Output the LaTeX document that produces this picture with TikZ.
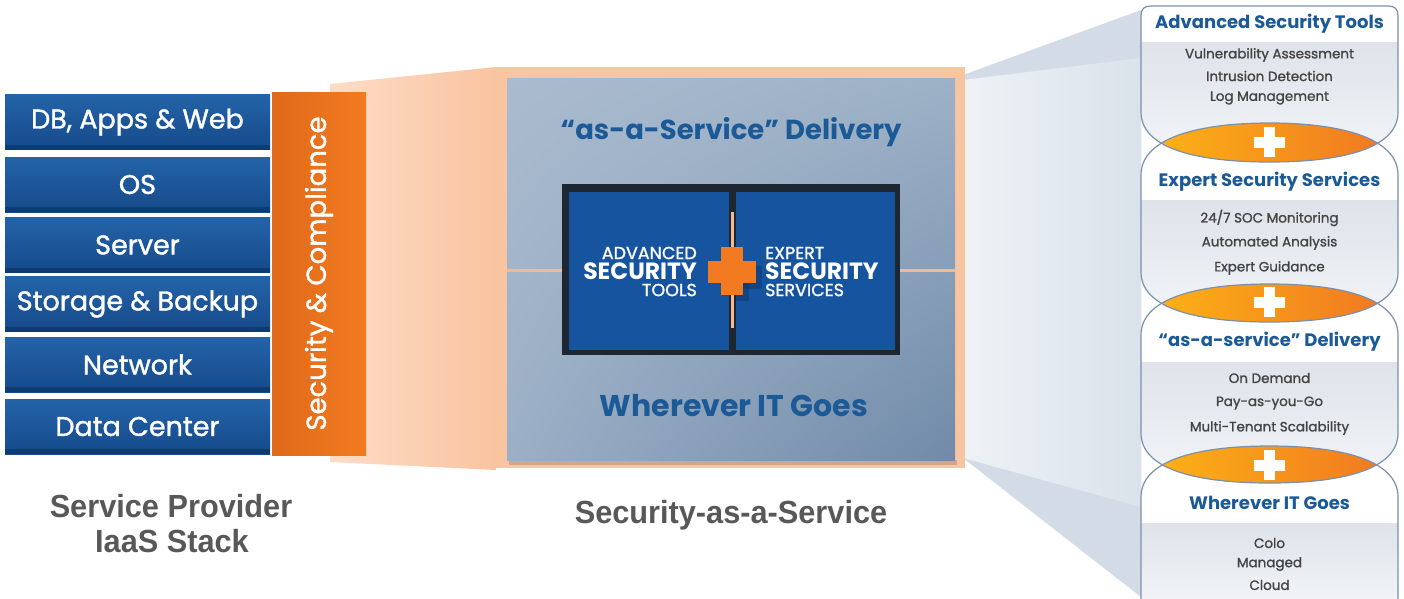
\documentclass[tikz,border=0pt]{standalone}
\usepackage{fontspec}
\usetikzlibrary{shadings}
\setmainfont{Poppins}
\newfontfamily\medfont[FakeBold=1.3]{Poppins}
\newfontfamily\capfont[FakeStretch=0.96]{Liberation Sans}
\definecolor{bartop}{HTML}{2463A8}
\definecolor{barbot}{HTML}{154A8A}
\definecolor{bardark}{HTML}{0E3C72}
\definecolor{orangec}{HTML}{F27B21}
\definecolor{orangedk}{HTML}{E0691A}
\definecolor{peach}{HTML}{F9C4A0}
\definecolor{peachlight}{HTML}{FDDCC6}
\definecolor{peachline}{HTML}{F5B88F}
\definecolor{framedark}{HTML}{1E2631}
\definecolor{panelblue}{HTML}{1654A0}
\definecolor{headblue}{HTML}{1B5A96}
\definecolor{bodygray}{HTML}{444444}
\definecolor{outlinec}{HTML}{7C90AC}
\definecolor{beamc}{HTML}{D3DCE6}
\definecolor{beamlight}{HTML}{EEF2F6}
\definecolor{beammid}{HTML}{DAE2EB}
\definecolor{secgray}{HTML}{DEE3EA}
\definecolor{secgraylt}{HTML}{F3F5F8}
\definecolor{capgray}{HTML}{585858}
\definecolor{lensy}{HTML}{FDB515}
\definecolor{lenso}{HTML}{F07522}
\definecolor{gbul}{HTML}{AABBCE}
\definecolor{gbur}{HTML}{9DB1C7}
\definecolor{gbll}{HTML}{9BAFC6}
\definecolor{gblr}{HTML}{708AA8}
\definecolor{plusshadow}{HTML}{0E3468}
\tikzset{
  bar/.style={minimum width=265pt, minimum height=55pt, inner sep=0pt,
    top color=bartop, bottom color=barbot, text=white,
    font=\medfont\fontsize{27}{27}\selectfont,
    path picture={\fill[bardark] (path picture bounding box.south west) rectangle ([yshift=5pt]path picture bounding box.south east);}},
  bigtitle/.style={text=headblue, font=\bfseries\fontsize{27.5}{27.5}\selectfont, inner sep=0pt},
  paneltxt/.style={text=white, inner sep=0pt, font=\medfont\fontsize{17.5}{17.5}\selectfont},
  panelbig/.style={text=white, inner sep=0pt, font=\bfseries\fontsize{23.5}{23.5}\selectfont},
  sechead/.style={text=headblue, inner sep=0pt, font=\bfseries\fontsize{18}{18}\selectfont},
  secline/.style={text=bodygray, inner sep=0pt, font=\medfont\fontsize{13.5}{13.5}\selectfont},
  caption/.style={text=capgray, inner sep=0pt, font=\capfont\bfseries\fontsize{32}{32}\selectfont},
  secout/.style={draw=outlinec, line width=1.2pt},
  plusw/.style={fill=white},
  s1/.style={insert path={(1141,112) -- (1141,16) .. controls (1141,9) and (1144,6) .. (1151,6) -- (1388,6) .. controls (1395,6) and (1398,9) .. (1398,16) -- (1398,112) .. controls (1398,150) and (1338,162) .. (1269.5,162) .. controls (1201,162) and (1141,150) .. (1141,112) -- cycle}},
  s2/.style={insert path={(1141,175) .. controls (1141,137) and (1201,123) .. (1269.5,123) .. controls (1338,123) and (1398,137) .. (1398,175) -- (1398,272) .. controls (1398,310) and (1338,322) .. (1269.5,322) .. controls (1201,322) and (1141,310) .. (1141,272) -- cycle}},
  s3/.style={insert path={(1141,335) .. controls (1141,297) and (1201,284) .. (1269.5,284) .. controls (1338,284) and (1398,297) .. (1398,335) -- (1398,433) .. controls (1398,471) and (1338,483) .. (1269.5,483) .. controls (1201,483) and (1141,471) .. (1141,433) -- cycle}},
  s4/.style={insert path={(1141,497) .. controls (1141,459) and (1201,446) .. (1269.5,446) .. controls (1338,446) and (1398,459) .. (1398,497) -- (1398,610) -- (1141,610) -- cycle}},
  s4o/.style={insert path={(1141,610) -- (1141,497) .. controls (1141,459) and (1201,446) .. (1269.5,446) .. controls (1338,446) and (1398,459) .. (1398,497) -- (1398,610)}},
}
\begin{document}
\begin{tikzpicture}[x=1pt,y=-1pt]
\useasboundingbox (0,0) rectangle (1404,598);
\fill[white] (0,0) rectangle (1404,598);

% ---------- beams ----------
\shade[left color=peachlight, right color=peach] (330,84) -- (496,67) -- (496,470) -- (330,462) -- cycle;
\fill[beamc] (963,75) -- (1141,10) -- (1141,597) -- (963,458) -- cycle;
\shade[left color=beamlight, right color=beammid] (963,80) -- (1141,58) -- (1141,507) -- (963,458) -- cycle;

% ---------- left stack ----------
\node[bar] (b1) at (137.5,122) {DB, Apps \& Web};
\node[bar] (b2) at (137.5,184.5) {OS};
\node[bar] (b3) at (137.5,245) {Server};
\node[bar] (b4) at (137.5,304) {Storage \& Backup};
\node[bar] (b5) at (137.5,364.5) {Network};
\node[bar] (b6) at (137.5,426.5) {Data Center};
\node[minimum width=94pt, minimum height=363pt, inner sep=0pt,
      left color=orangedk, right color=orangec] (sc) at (319,273.5) {};
\node[rotate=90, text=white, font=\medfont\fontsize{27.5}{27.5}\selectfont, inner sep=0pt] (sctext) at (sc.center) {Security \& Compliance};

% ---------- centre ----------
\fill[peach] (495,67) rectangle (965,468);
\fill[black, opacity=0.15] (509,460) rectangle (957,465);
\shade[upper left=gbul, upper right=gbur, lower left=gbll, lower right=gblr]
  (507,78) rectangle (955,460);
\node[inner sep=0pt, minimum width=448pt, minimum height=382pt] (gbox) at (731,269) {};
\fill[peachline] (507,268.5) rectangle (562,271.5);
\fill[peachline] (900,268.5) rectangle (955,271.5);
\node[fill=framedark, minimum width=338pt, minimum height=171pt, inner sep=0pt] (frame) at (731,269.5) {};
\node[fill=panelblue, minimum width=160pt, minimum height=158pt, inner sep=0pt] (pl) at (649,271) {};
\node[fill=panelblue, minimum width=159pt, minimum height=158pt, inner sep=0pt] (pr) at (815.5,271) {};
\fill[peachline] (730.5,212) rectangle (734,328);
\fill[plusshadow, opacity=0.45] (743,266) rectangle (762,289);
\fill[plusshadow, opacity=0.45] (736,283) rectangle (749,301);
\fill[orangec] (708,261) rectangle (756,283);
\fill[orangec] (721,247) rectangle (743,295);
\node[bigtitle] (t1) at (731,132) {“as-a-Service” Delivery};
\node[bigtitle, font=\bfseries\fontsize{30}{30}\selectfont] (t2) at (734,406) {Wherever IT Goes};
\node[paneltxt, anchor=east] (a1) at (697,253) {ADVANCED};
\node[panelbig, anchor=east] (a2) at (697,271) {SECURITY};
\node[paneltxt, anchor=east] (a3) at (697,290) {TOOLS};
\node[paneltxt, anchor=west] (e1) at (765,253) {EXPERT};
\node[panelbig, anchor=west] (e2) at (765,271) {SECURITY};
\node[paneltxt, anchor=west] (e3) at (765,290) {SERVICES};

% ---------- right column ----------
\fill[white, s1]; \fill[white, s2]; \fill[white, s3]; \fill[white, s4];
\begin{scope}\clip[s1]; \shade[top color=secgray, bottom color=secgraylt] (1141,42) rectangle (1398,165); \end{scope}
\begin{scope}\clip[s2]; \shade[top color=secgray, bottom color=secgraylt] (1141,200) rectangle (1398,325); \end{scope}
\begin{scope}\clip[s3]; \shade[top color=secgray, bottom color=secgraylt] (1141,362) rectangle (1398,486); \end{scope}
\begin{scope}\clip[s4]; \shade[top color=secgray, bottom color=secgraylt] (1141,523) rectangle (1398,610); \end{scope}
\begin{scope}\clip[s1]; \shade[left color=lensy, right color=lenso, s2]; \end{scope}
\begin{scope}\clip[s2]; \shade[left color=lensy, right color=lenso, s3]; \end{scope}
\begin{scope}\clip[s3]; \shade[left color=lensy, right color=lenso, s4]; \end{scope}
\draw[secout, s1]; \draw[secout, s2]; \draw[secout, s3]; \draw[secout, s4o];
\foreach \py in {142,302,465}{
  \fill[plusw] (1253.5,\py-5.5) rectangle (1284.5,\py+5.5);
  \fill[plusw] (1263.5,\py-15) rectangle (1274.5,\py+15);
}
\node[sechead] (h1) at (1269.5,24) {Advanced Security Tools};
\node[secline] (l11) at (1269.5,55) {Vulnerability Assessment};
\node[secline] (l12) at (1269.5,76) {Intrusion Detection};
\node[secline] (l13) at (1269.5,98) {Log Management};
\node[sechead] (h2) at (1269.5,182) {Expert Security Services};
\node[secline] (l21) at (1269.5,218) {24/7 SOC Monitoring};
\node[secline] (l22) at (1269.5,243) {Automated Analysis};
\node[secline] (l23) at (1269.5,268) {Expert Guidance};
\node[sechead] (h3) at (1269.5,342) {“as-a-service” Delivery};
\node[secline] (l31) at (1269.5,378) {On Demand};
\node[secline] (l32) at (1269.5,403) {Pay-as-you-Go};
\node[secline] (l33) at (1269.5,428) {Multi-Tenant Scalability};
\node[sechead] (h4) at (1269.5,503) {Wherever IT Goes};
\node[secline] (l41) at (1269.5,543) {Colo};
\node[secline] (l42) at (1269.5,564) {Managed};
\node[secline] (l43) at (1269.5,585) {Cloud};

% ---------- captions ----------
\node[caption] (c1) at (171,506) {Service Provider};
\node[caption] (c2) at (172,541) {IaaS Stack};
\node[caption] (c3) at (731,515) {Security-as-a-Service};
\end{tikzpicture}
\end{document}
